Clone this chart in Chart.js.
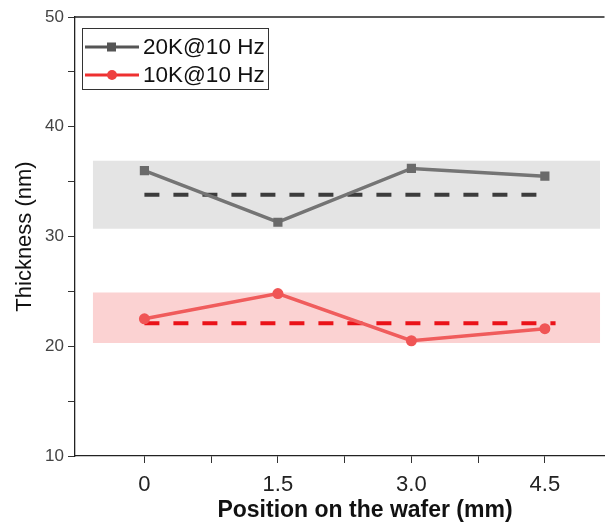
<!DOCTYPE html>
<html>
<head>
<meta charset="utf-8">
<script src="https://cdn.jsdelivr.net/npm/chart.js@4/dist/chart.umd.min.js"></script>
<style>
  html, body { margin: 0; padding: 0; background: #fff; }
  #wrap { width: 611px; height: 527px; }
</style>
</head>
<body>
<div id="wrap"><canvas id="chart" width="611" height="527"></canvas></div>
<script>
// positions on the wafer (mm)
const positions = [0, 1.5, 3.0, 4.5];
const xTickLabels = ["0", "1.5", "3.0", "4.5"];

// thickness (nm)
const series20K = [36.0, 31.3, 36.2, 35.5];
const series10K = [22.5, 24.8, 20.5, 21.6];

// mean lines and spread bands
const mean20K = 33.8;
const mean10K = 22.1;
const band20K = [30.7, 36.9];
const band10K = [20.3, 24.9];
const bandX = [-0.58, 5.12];
const meanX20K = [0, 4.5];
const meanX10K = [0, 4.62];

const legendNames = ["20K@10 Hz", "10K@10 Hz"];
const xTitle = "Position on the wafer (mm)";

const FONT = "'Liberation Sans', Arial, sans-serif";
const GRAY = "#747474";
const RED = "#f05c5c";

function pts(xs, ys) {
  return xs.map((x, i) => ({ x: x, y: ys[i] }));
}

const frameAndLegend = {
  id: "frame",
  afterDraw(c) {
    const ctx = c.ctx;
    const a = c.chartArea;
    ctx.save();
    // top border
    ctx.strokeStyle = "#222";
    ctx.lineWidth = 1.3;
    ctx.beginPath();
    ctx.moveTo(a.left, a.top);
    ctx.lineTo(a.right, a.top);
    ctx.stroke();

    // x axis title (original plot was cropped on the right, so it sits off-centre)
    ctx.fillStyle = "#111";
    ctx.font = "bold 23px " + FONT;
    ctx.textAlign = "center";
    ctx.textBaseline = "middle";
    ctx.fillText(xTitle, 365, 511);

    // legend
    const bx = 82, by = 28, bw = 186, bh = 61;
    ctx.fillStyle = "#fff";
    ctx.fillRect(bx, by, bw, bh);
    ctx.strokeStyle = "#333";
    ctx.lineWidth = 1;
    ctx.strokeRect(bx + 0.5, by + 0.5, bw, bh);
    ctx.font = "22.5px " + FONT;
    ctx.textAlign = "left";
    const rows = [
      { name: legendNames[0], line: "#555", mark: "#555", y: by + 19, shape: "square" },
      { name: legendNames[1], line: "#ee3030", mark: "#ee4040", y: by + 47, shape: "circle" }
    ];
    rows.forEach(r => {
      ctx.strokeStyle = r.line;
      ctx.lineWidth = 3;
      ctx.beginPath();
      ctx.moveTo(bx + 3, r.y);
      ctx.lineTo(bx + 57, r.y);
      ctx.stroke();
      ctx.fillStyle = r.mark;
      if (r.shape === "square") {
        ctx.fillRect(bx + 25, r.y - 4.5, 9, 9);
      } else {
        ctx.beginPath();
        ctx.arc(bx + 30, r.y, 5, 0, Math.PI * 2);
        ctx.fill();
      }
      ctx.fillStyle = "#111";
      ctx.fillText(r.name, bx + 61, r.y + 1);
    });
    ctx.restore();
  }
};

new Chart(document.getElementById("chart"), {
  type: "line",
  data: {
    datasets: [
      {
        data: pts(bandX, [band20K[1], band20K[1]]),
        borderWidth: 0, pointRadius: 0, fill: false, order: 10
      },
      {
        data: pts(bandX, [band20K[0], band20K[0]]),
        borderWidth: 0, pointRadius: 0, fill: "-1",
        backgroundColor: "rgba(212,212,212,0.62)", order: 10
      },
      {
        data: pts(bandX, [band10K[1], band10K[1]]),
        borderWidth: 0, pointRadius: 0, fill: false, order: 10
      },
      {
        data: pts(bandX, [band10K[0], band10K[0]]),
        borderWidth: 0, pointRadius: 0, fill: "-1",
        backgroundColor: "rgba(249,180,180,0.6)", order: 10
      },
      {
        data: pts(meanX20K, [mean20K, mean20K]),
        borderColor: "#3c3c3c", borderWidth: 4, borderDash: [15, 14],
        pointRadius: 0, fill: false, order: 5
      },
      {
        data: pts(meanX10K, [mean10K, mean10K]),
        borderColor: "#ea1218", borderWidth: 4, borderDash: [15, 14],
        pointRadius: 0, fill: false, order: 5
      },
      {
        label: legendNames[0],
        data: pts(positions, series20K),
        borderColor: GRAY, backgroundColor: "#6a6a6a", borderWidth: 3.5,
        pointStyle: "rect", pointRadius: 6.5, pointBorderWidth: 0,
        fill: false, order: 1
      },
      {
        label: legendNames[1],
        data: pts(positions, series10K),
        borderColor: RED, backgroundColor: "#f05555", borderWidth: 3.5,
        pointStyle: "circle", pointRadius: 5.5, pointBorderWidth: 0,
        fill: false, order: 1
      }
    ]
  },
  options: {
    responsive: false,
    animation: false,
    layout: { padding: { top: 17, right: 0, left: 0, bottom: 0 } },
    plugins: { legend: { display: false }, tooltip: { enabled: false } },
    scales: {
      x: {
        type: "linear",
        min: -0.78,
        max: 5.17,
        afterBuildTicks(s) {
          const t = [];
          positions.forEach((p, i) => {
            t.push({ value: p });
            if (i < positions.length - 1) t.push({ value: p + 0.75 });
          });
          s.ticks = t;
        },
        afterFit(s) { s.height = 71; },
        border: { color: "#222", width: 1.3 },
        grid: { drawOnChartArea: false, tickLength: 7, tickColor: "#333" },
        ticks: {
          color: "#222",
          padding: 9,
          maxRotation: 0,
          font: { family: FONT, size: 22 },
          callback(v) {
            const i = positions.indexOf(v);
            return i >= 0 ? xTickLabels[i] : "";
          }
        },
        title: { display: false }
      },
      y: {
        min: 10,
        max: 50,
        afterFit(s) { s.width = 75; },
        border: { color: "#222", width: 1.3 },
        grid: { drawOnChartArea: false, tickLength: 7, tickColor: "#333" },
        ticks: {
          stepSize: 5,
          color: "#444",
          padding: 4,
          font: { family: FONT, size: 17 },
          callback(v) { return v % 10 === 0 ? String(v) : ""; }
        },
        title: {
          display: true,
          text: "Thickness (nm)",
          color: "#111",
          padding: { top: 12, bottom: 0 },
          font: { family: FONT, size: 22 }
        }
      }
    }
  },
  plugins: [frameAndLegend]
});
</script>
</body>
</html>
